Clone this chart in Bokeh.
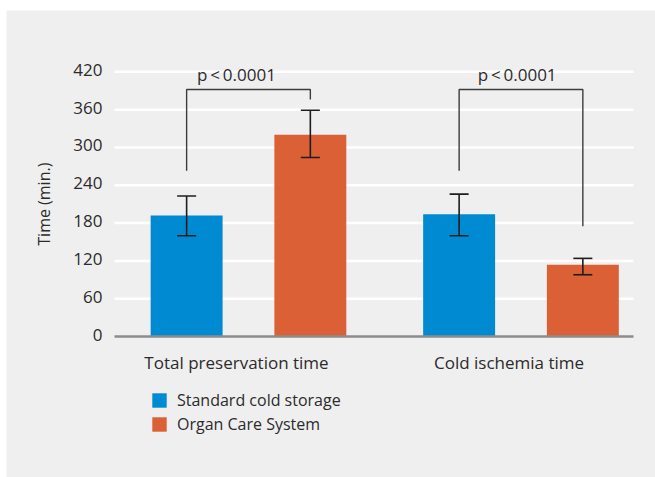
from bokeh.plotting import figure
from bokeh.models import (ColumnDataSource, Range1d, Whisker, TeeHead,
                          Legend, LegendItem)
from bokeh.core.properties import value
from bokeh.embed import file_html
from bokeh.resources import INLINE
import math

# ---- data ----
categories = ["Total preservation time", "Cold ischemia time"]
series = ["Standard cold storage", "Organ Care System"]
scs_mean = [192, 194]
scs_lower = [160, 160]
scs_upper = [223, 226]
ocs_mean = [320, 114]
ocs_lower = [284, 98]
ocs_upper = [359, 124]
p_labels = ["p\u2009<\u20090.0001", "p\u2009<\u20090.0001"]
bracket_top = [392, 392]
bracket_left_low = [263, 263]
bracket_right_low = [376, 175]
y_ticks = [0, 60, 120, 180, 240, 300, 360, 420]
y_title = "Time (min.)"

BLUE = "#008ad1"
ORANGE = "#dc6036"
BG = "#efefef"
TXT = "#2b2b2b"
FONT = value("Open Sans")
FS = "17px"

x_pos = list(range(len(categories)))
off_scs, off_ocs, bw = -0.183, 0.271, 0.264
x_lo, x_hi = -0.4477, 1.4569          # extent of the value axis area

p = figure(width=655, height=477, output_backend="svg", toolbar_location=None,
           x_range=Range1d(-0.844, 1.5376), y_range=Range1d(-223.7, 517.3),
           min_border_left=6, min_border_right=0, min_border_top=10,
           min_border_bottom=0)
p.background_fill_color = BG
p.border_fill_color = "white"
p.outline_line_color = None
p.axis.visible = False
p.grid.visible = False

# grid lines and base line
grid_y = [t for t in y_ticks if t > 0]
p.segment(x0=[x_lo] * len(grid_y), x1=[x_hi] * len(grid_y), y0=grid_y, y1=grid_y,
          line_color="white", line_width=2.5)

src_s = ColumnDataSource(dict(x=[v + off_scs for v in x_pos], top=scs_mean,
                              lo=scs_lower, hi=scs_upper))
src_o = ColumnDataSource(dict(x=[v + off_ocs for v in x_pos], top=ocs_mean,
                              lo=ocs_lower, hi=ocs_upper))

r_s = p.vbar(x="x", top="top", width=bw, source=src_s, color=BLUE, line_color=None)
r_o = p.vbar(x="x", top="top", width=bw, source=src_o, color=ORANGE, line_color=None)

p.segment(x0=[x_lo], x1=[x_hi], y0=[0], y1=[0], line_color="#8c8c8c", line_width=2.5)

for src in (src_s, src_o):
    w = Whisker(base="x", lower="lo", upper="hi", source=src, line_color="#1e1e1e",
                line_width=1.6, level="overlay",
                upper_head=TeeHead(size=19, line_color="#1e1e1e", line_width=1.6),
                lower_head=TeeHead(size=19, line_color="#1e1e1e", line_width=1.6))
    p.add_layout(w)

# significance brackets
xs, ys = [], []
for i in x_pos:
    xl, xr = i + off_scs, i + off_ocs
    xs.append([xl, xl, xr, xr])
    ys.append([bracket_left_low[i], bracket_top[i], bracket_top[i], bracket_right_low[i]])
p.multi_line(xs=xs, ys=ys, line_color="#3c3c3c", line_width=1.4)

p.text(x=[0.0, 1.03], y=[405, 405], text=p_labels, y_offset=-7,
       text_align="center", text_baseline="alphabetic", text_font=FONT,
       text_font_size=FS, text_color=TXT)

# y tick labels
p.text(x=[-0.4917] * len(y_ticks), y=y_ticks, text=[str(t) for t in y_ticks],
       y_offset=-2, text_align="right", text_baseline="middle", text_font=FONT,
       text_font_size=FS, text_color=TXT)

# category labels
p.text(x=x_pos, y=[-52] * len(x_pos), text=categories, y_offset=-7,
       text_align="center", text_baseline="alphabetic", text_font=FONT,
       text_font_size=FS, text_color=TXT)

# y-axis title
p.text(x=[-0.708], y=[210], text=[y_title], angle=math.pi / 2, text_align="center",
       text_baseline="middle", text_font=FONT, text_font_size="16px",
       text_color=TXT)

legend = Legend(items=[LegendItem(label=series[0], renderers=[r_s]),
                       LegendItem(label=series[1], renderers=[r_o])],
                location=(144, 42), orientation="vertical",
                background_fill_alpha=0, border_line_color=None, padding=0,
                margin=0, spacing=2, glyph_width=18, glyph_height=18,
                label_height=18, label_standoff=9, label_text_font="Open Sans",
                label_text_font_size="16px", label_text_color=TXT)
p.add_layout(legend, "center")

open("out.html", "w").write(file_html(p, INLINE))
